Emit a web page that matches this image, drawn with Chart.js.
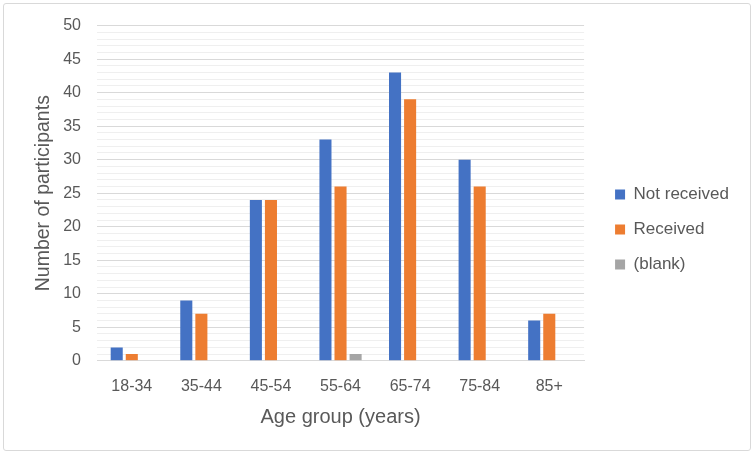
<!DOCTYPE html>
<html>
<head>
<meta charset="utf-8">
<script src="https://cdn.jsdelivr.net/npm/chart.js@4.4.0/dist/chart.umd.min.js"></script>
<style>
    html, body { margin: 0; padding: 0; background: #ffffff; }
    #wrap { position: relative; width: 755px; height: 455px; }
    #frame {
        position: absolute; left: 3px; top: 3px; width: 746px; height: 446px;
        border: 1px solid #d9d9d9; border-radius: 3px; pointer-events: none;
    }
</style>
</head>
<body>
<div id="wrap">
    <canvas id="chart" width="755" height="455"></canvas>
    <div id="frame"></div>
</div>
<script>
// Data
const ageGroups = ['18-34', '35-44', '45-54', '55-64', '65-74', '75-84', '85+'];
const notReceived = [2, 9, 24, 33, 43, 30, 6];
const received = [1, 7, 24, 26, 39, 26, 7];
const blank = [0, 0, 0, 1, 0, 0, 0];

const textColor = '#595959';
const fontFamily = '"Liberation Sans", Arial, sans-serif';

// Widen the legend box so the plot area ends where the reference ends,
// then move the legend items right/down to their place
const legendGap = {
    id: 'legendGap',
    beforeLayout(chart) {
        const lg = chart.legend;
        if (lg && !lg._gapPatched) {
            const fit = lg.fit.bind(lg);
            lg.fit = function () {
                fit();
                this.width += 20;
            };
            lg._gapPatched = true;
        }
    },
    afterLayout(chart) {
        const lg = chart.legend;
        if (lg) {
            lg.left += 13;
            lg.right += 13;
            lg.top += 5;
            lg.bottom += 5;
        }
    }
};

const ctx = document.getElementById('chart');

new Chart(ctx, {
    type: 'bar',
    data: {
        labels: ageGroups,
        datasets: [
            {
                label: 'Not received',
                data: notReceived,
                backgroundColor: '#4472C4',
                categoryPercentage: 0.65,
                barPercentage: 0.8
            },
            {
                label: 'Received',
                data: received,
                backgroundColor: '#ED7D31',
                categoryPercentage: 0.65,
                barPercentage: 0.8
            },
            {
                label: '(blank)',
                data: blank,
                backgroundColor: '#A5A5A5',
                categoryPercentage: 0.65,
                barPercentage: 0.8
            }
        ]
    },
    options: {
        responsive: false,
        animation: false,
        layout: {
            padding: { left: 32, right: 9, top: 20, bottom: 26 }
        },
        plugins: {
            tooltip: { enabled: false },
            legend: {
                position: 'right',
                labels: {
                    color: textColor,
                    boxWidth: 10,
                    boxHeight: 10,
                    padding: 18,
                    font: { family: fontFamily, size: 17 }
                }
            }
        },
        scales: {
            x: {
                grid: { display: false },
                border: { color: '#d9d9d9', width: 1 },
                ticks: {
                    color: textColor,
                    padding: 8,
                    font: { family: fontFamily, size: 16 }
                },
                title: {
                    display: true,
                    text: 'Age group (years)',
                    color: textColor,
                    padding: { top: 1, bottom: 0 },
                    font: { family: fontFamily, size: 20 }
                }
            },
            y: {
                min: 0,
                max: 50,
                border: { display: false },
                afterFit: axis => { axis.width = 65; },
                grid: {
                    drawTicks: false,
                    color: c => (c.tick && c.tick.value % 5 === 0) ? '#d9d9d9' : '#efefef',
                    lineWidth: 1
                },
                ticks: {
                    stepSize: 1,
                    autoSkip: false,
                    color: textColor,
                    padding: 16,
                    font: { family: fontFamily, size: 16 },
                    callback: v => (v % 5 === 0 ? v : '')
                },
                title: {
                    display: true,
                    text: 'Number of participants',
                    color: textColor,
                    padding: { top: 0, bottom: 0 },
                    font: { family: fontFamily, size: 19.5 }
                }
            }
        }
    },
    plugins: [legendGap]
});
</script>
</body>
</html>
